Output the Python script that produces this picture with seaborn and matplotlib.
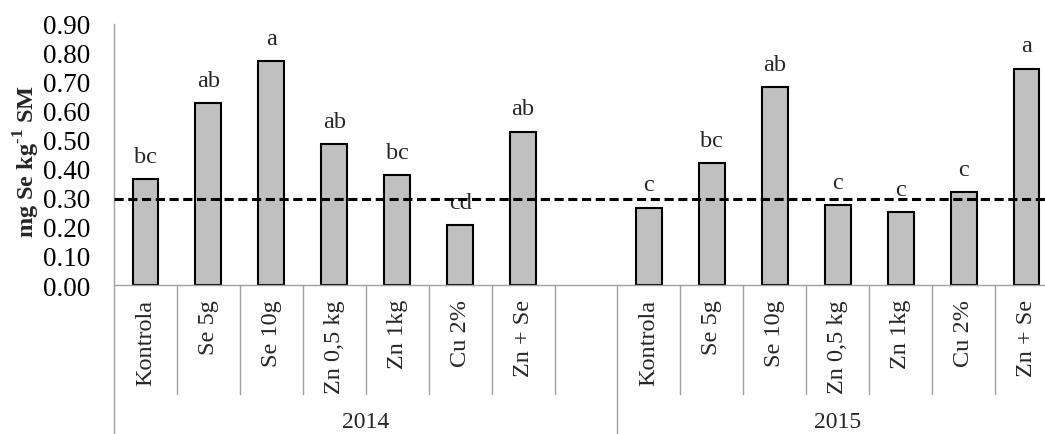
import numpy as np
import pandas as pd
import matplotlib
matplotlib.use('Agg')
import matplotlib.pyplot as plt
import matplotlib.transforms as mtransforms
import seaborn as sns

# data
years = ['2014', '2015']
treatments = ['Kontrola', 'Se 5g', 'Se 10g', 'Zn 0,5 kg', 'Zn 1kg', 'Cu 2%', 'Zn + Se']
se_2014 = [0.365, 0.627, 0.772, 0.485, 0.379, 0.207, 0.529]
se_2015 = [0.267, 0.420, 0.682, 0.276, 0.251, 0.320, 0.746]
letters_2014 = ['bc', 'ab', 'a', 'ab', 'bc', 'cd', 'ab']
letters_2015 = ['c', 'bc', 'ab', 'c', 'c', 'c', 'a']
threshold = 0.296
yticks = [0.0, 0.1, 0.2, 0.3, 0.4, 0.5, 0.6, 0.7, 0.8, 0.9]

GRAY = '#a0a0a0'
W, H = 1045, 435


def build_frame():
    rows = []
    for year, vals, lets in [('2014', se_2014, letters_2014), ('2015', se_2015, letters_2015)]:
        for t, v, l in zip(treatments, vals, lets):
            rows.append({'key': f'{year}|{t}', 'year': year, 'treatment': t, 'value': v, 'letter': l})
    return pd.DataFrame(rows)


def main():
    sns.set_style('white')
    plt.rcParams['font.family'] = ['Liberation Serif', 'DejaVu Serif']
    plt.rcParams['mathtext.fontset'] = 'custom'
    plt.rcParams['mathtext.rm'] = 'Liberation Serif'
    plt.rcParams['mathtext.bf'] = 'Liberation Serif:bold'

    df = build_frame()
    # 2014 group has an empty 8th slot in the original
    order = [f'2014|{t}' for t in treatments] + ['2014|'] + [f'2015|{t}' for t in treatments]

    fig = plt.figure(figsize=(W / 100, H / 100), dpi=100)
    ax = fig.add_axes([114 / W, 149 / H, 944 / W, 261 / H])

    sns.barplot(data=df, x='key', y='value', order=order, width=0.41, color='#c0c0c0',
                saturation=1, edgecolor='black', linewidth=1.5, errorbar=None, ax=ax)

    ax.set_xlim(-0.5, len(order) - 0.5)
    ax.set_ylim(0, 0.9)
    ax.axhline(threshold, color='black', lw=2.2, linestyle=(0, (3, 1.5)), zorder=5)

    # significance letters
    for _, r in df.iterrows():
        i = order.index(r['key'])
        ax.annotate(r['letter'], xy=(i, r['value']), xytext=(0, 12.5), textcoords='offset points',
                    ha='center', va='baseline', fontsize=17.5)

    # y axis
    ax.set_yticks(yticks)
    ax.set_yticklabels([f'{v:.2f}' for v in yticks])
    ax.tick_params(axis='y', length=6, width=1, color=GRAY, pad=11, labelsize=19.5, labelcolor='black')
    ax.set_ylabel('mg Se kg$^{\\mathbf{\u2010}\\mathbf{1}}$ SM', fontweight='bold', fontsize=17.5, va='center')
    ax.yaxis.set_label_coords((27 - 114) / 944, 0.479)

    # multi-level category axis
    ax.set_xticks([])
    ax.set_xlabel('')
    for s in ['top', 'right']:
        ax.spines[s].set_visible(False)
    for s in ['left', 'bottom']:
        ax.spines[s].set_color(GRAY)
        ax.spines[s].set_linewidth(1)

    trans = mtransforms.blended_transform_factory(ax.transData, ax.transAxes)
    short = -109 / 261
    long_ = -149 / 261
    for b in np.arange(-0.5, len(order)):
        if b in (-0.5, 7.5, 14.5):
            ax.plot([b, b], [0, long_], transform=trans, color=GRAY, lw=1, clip_on=False)
        else:
            ax.plot([b, b], [0, short], transform=trans, color=GRAY, lw=1, clip_on=False)

    for i, key in enumerate(order):
        name = key.split('|')[1]
        if name:
            ax.annotate(name, xy=(i, 0), xycoords=('data', 'axes fraction'), xytext=(0, -10),
                        textcoords='offset points', rotation=90, ha='center', va='top', fontsize=17.5)

    for year, center in zip(years, [3.5, 11.0]):
        ax.annotate(year, xy=(center, 0), xycoords=('data', 'axes fraction'), xytext=(0, -137 * 0.72),
                    textcoords='offset points', ha='center', va='center', fontsize=17)

    fig.savefig('out.png', dpi=100)


if __name__ == '__main__':
    main()
